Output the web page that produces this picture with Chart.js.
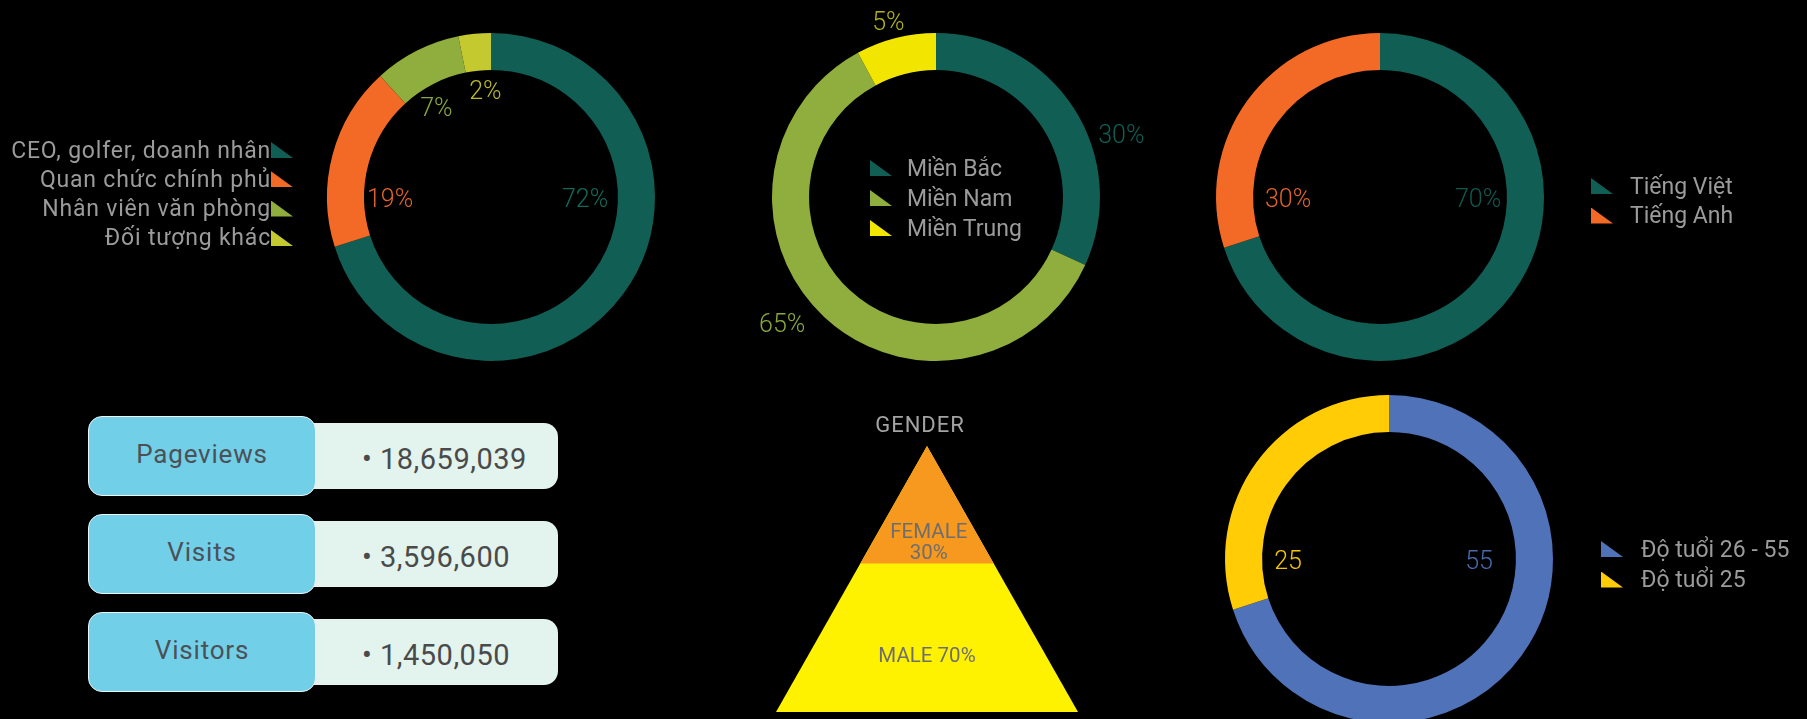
<!DOCTYPE html>
<html>
<head>
  <meta charset="utf-8">
  <title>Audience infographic</title>
  <script src="https://cdn.jsdelivr.net/npm/chart.js"></script>
  <style>
    html, body { margin: 0; padding: 0; background: #000; }
    body { width: 1807px; height: 719px; position: relative; overflow: hidden; font-family: Roboto, "Noto Sans", sans-serif; }
    canvas.donut { position: absolute; }
    .legend { position: absolute; left: 0; top: 0; width: 1807px; height: 719px; color: #9b9b9b; font-size: 23px; pointer-events: none; }
    .legend .row { position: absolute; white-space: nowrap; display: flex; align-items: center; height: 26px; }
    .legend .mark { width: 22px; height: 16px; clip-path: polygon(0 0, 0 100%, 100% 100%); flex: none; }
    #legendAudience { letter-spacing: 0.8px; }
    .stat-val { position: absolute; background: #e3f3ee; border-radius: 14px; color: #4a4a4a; font-size: 29px; letter-spacing: 0.5px; box-sizing: border-box; }
    .stat-key { position: absolute; background: #72cfe8; border: 1.5px solid #e9f5f6; border-radius: 14px; color: #4b5157; font-size: 26px; letter-spacing: 0.8px; display: flex; align-items: center; justify-content: center; box-sizing: border-box; }
    #genderTitle { position: absolute; left: 820px; width: 200px; top: 412px; text-align: center; color: #a3a3a3; font-size: 22px; letter-spacing: 1px; }
  </style>
</head>
<body>
  <canvas id="audienceChart" class="donut" width="460" height="460" style="left:261px;top:-33px"></canvas>
  <canvas id="regionChart" class="donut" width="460" height="460" style="left:706px;top:-33px"></canvas>
  <canvas id="languageChart" class="donut" width="460" height="460" style="left:1150px;top:-33px"></canvas>
  <canvas id="ageChart" class="donut" width="460" height="460" style="left:1159px;top:329px"></canvas>
  <canvas id="genderChart" class="donut" width="340" height="289" style="left:760px;top:430px"></canvas>
  <div id="genderTitle">GENDER</div>
  <div id="stats"></div>
  <div id="legendAudience" class="legend"></div>
  <div id="legendRegion" class="legend"></div>
  <div id="legendLanguage" class="legend"></div>
  <div id="legendAge" class="legend"></div>

  <script>
    // --- data ---
    // ring sizes are read off the drawing; the printed labels are kept as they appear
    const audienceLabels = ['CEO, golfer, doanh nhân', 'Quan chức chính phủ', 'Nhân viên văn phòng', 'Đối tượng khác'];
    const audienceValues = [70.1, 18.1, 8.6, 3.2];
    const audienceTexts = ['72%', '19%', '7%', '2%'];
    const regionLabels = ['Miền Bắc', 'Miền Nam', 'Miền Trung'];
    const regionValues = [31.8, 60.3, 7.9];
    const regionTexts = ['30%', '65%', '5%'];
    const languageLabels = ['Tiếng Việt', 'Tiếng Anh'];
    const languageValues = [70, 30];
    const languageTexts = ['70%', '30%'];
    const ageLabels = ['Độ tuổi 26 - 55', 'Độ tuổi 25'];
    const ageValues = [70, 30];
    const ageTexts = ['55', '25'];
    const genderLabels = ['FEMALE', 'MALE'];
    const genderValues = [30, 70];
    const statLabels = ['Pageviews', 'Visits', 'Visitors'];
    const statValues = ['18,659,039', '3,596,600', '1,450,050'];

    const TEAL = '#115e54', ORANGE = '#f26a25', GREEN = '#8fae3d', LIME = '#c4c92f';

    // labels around the rings: angle (deg, clockwise from top) and distance from centre
    const arcLabels = {
      id: 'arcLabels',
      afterDatasetsDraw(chart, args, opts) {
        if (!opts.angles) return;
        const ctx = chart.ctx;
        ctx.save();
        ctx.font = '300 25px Roboto';
        ctx.textAlign = 'center';
        ctx.textBaseline = 'middle';
        chart.getDatasetMeta(0).data.forEach((arc, i) => {
          const a = opts.angles[i] * Math.PI / 180;
          ctx.fillStyle = opts.colors[i];
          ctx.fillText(opts.texts[i], arc.x + opts.radii[i] * Math.sin(a), arc.y - opts.radii[i] * Math.cos(a) + 4);
        });
        ctx.restore();
      }
    };

    function donut(id, labels, values, colors, labelOpts) {
      return new Chart(document.getElementById(id), {
        type: 'doughnut',
        data: { labels: labels, datasets: [{ data: values, backgroundColor: colors, borderWidth: 0 }] },
        options: {
          responsive: false,
          animation: false,
          cutout: '77.4%',
          layout: { padding: 66 },
          plugins: { legend: { display: false }, tooltip: { enabled: false }, arcLabels: labelOpts }
        },
        plugins: [arcLabels]
      });
    }

    const audienceColors = [TEAL, ORANGE, GREEN, LIME];
    donut('audienceChart', audienceLabels, audienceValues, audienceColors, {
      texts: audienceTexts, angles: [90, 270, 329, 357], radii: [94, 101, 106, 108],
      colors: ['#12695a', '#e0612a', '#8aa93a', '#b9b92a']
    });
    const regionColors = [TEAL, GREEN, '#f2e600'];
    donut('regionChart', regionLabels, regionValues, regionColors, {
      texts: regionTexts, angles: [71, 231, 345], radii: [196, 198, 184],
      colors: ['#0f5f55', '#8aa83c', '#b2b21e']
    });
    const languageColors = [TEAL, ORANGE];
    donut('languageChart', languageLabels, languageValues, languageColors, {
      texts: languageTexts, angles: [90, 270], radii: [98, 92],
      colors: ['#0f5a50', '#e0622a']
    });
    const ageColors = ['#5072b8', '#ffcc05'];
    donut('ageChart', ageLabels, ageValues, ageColors, {
      texts: ageTexts, angles: [90, 270], radii: [90, 101],
      colors: ['#4a6aad', '#f5c400']
    });

    // --- gender pyramid: apex at y=1, base at y=0 ---
    const genderSplit = 0.5585;
    const splitHalf = 0.5 * (1 - genderSplit);
    const pyramidText = {
      id: 'pyramidText',
      afterDatasetsDraw(chart) {
        const ctx = chart.ctx, xs = chart.scales.x, ys = chart.scales.y;
        ctx.save();
        ctx.font = '400 20.5px Roboto';
        ctx.fillStyle = '#6e6e6e';
        ctx.textAlign = 'center';
        ctx.textBaseline = 'middle';
        ctx.fillText(genderLabels[0], xs.getPixelForValue(0.006), ys.getPixelForValue(0.675));
        ctx.fillText(genderValues[0] + '%', xs.getPixelForValue(0.006), ys.getPixelForValue(0.596));
        ctx.fillText(genderLabels[1] + ' ' + genderValues[1] + '%', xs.getPixelForValue(0), ys.getPixelForValue(0.207));
        ctx.restore();
      }
    };
    new Chart(document.getElementById('genderChart'), {
      type: 'line',
      data: {
        datasets: [
          { label: genderLabels[0], data: [{ x: -splitHalf, y: genderSplit }, { x: 0, y: 1 }, { x: splitHalf, y: genderSplit }],
            backgroundColor: '#f7991f', fill: { value: genderSplit }, borderWidth: 0, pointRadius: 0, tension: 0 },
          { label: genderLabels[1], data: [{ x: -0.5, y: 0 }, { x: 0, y: 1 }, { x: 0.5, y: 0 }],
            backgroundColor: '#fff200', fill: 'origin', borderWidth: 0, pointRadius: 0, tension: 0 }
        ]
      },
      options: {
        responsive: false,
        animation: false,
        layout: { padding: { left: 16, right: 22, top: 16, bottom: 7 } },
        scales: {
          x: { type: 'linear', min: -0.5, max: 0.5, display: false },
          y: { min: 0, max: 1, display: false }
        },
        plugins: { legend: { display: false }, tooltip: { enabled: false } }
      },
      plugins: [pyramidText]
    });

    // --- legends ---
    function legend(id, labels, colors, cfg) {
      const box = document.getElementById(id);
      labels.forEach((text, i) => {
        const row = document.createElement('div');
        row.className = 'row';
        row.style.top = (cfg.top + i * cfg.step - 13) + 'px';
        const mark = document.createElement('span');
        mark.className = 'mark';
        mark.style.background = colors[i];
        const label = document.createElement('span');
        label.textContent = text;
        if (cfg.right !== undefined) {
          row.style.right = (1807 - cfg.right) + 'px';
          mark.style.marginLeft = cfg.gap + 'px';
          row.append(label, mark);
        } else {
          row.style.left = cfg.left + 'px';
          mark.style.marginRight = cfg.gap + 'px';
          row.append(mark, label);
        }
        box.appendChild(row);
      });
    }
    legend('legendAudience', audienceLabels, audienceColors, { right: 293, top: 150, step: 29.3, gap: 0 });
    legend('legendRegion', regionLabels, regionColors, { left: 870, top: 168, step: 30, gap: 15 });
    legend('legendLanguage', languageLabels, languageColors, { left: 1591, top: 186, step: 29.5, gap: 17 });
    legend('legendAge', ageLabels, ageColors, { left: 1601, top: 549, step: 30.5, gap: 18 });

    // --- headline numbers ---
    const stats = document.getElementById('stats');
    statLabels.forEach((name, i) => {
      const top = 416 + i * 98;
      const val = document.createElement('div');
      val.className = 'stat-val';
      val.style.cssText = `left:290px;top:${top + 7}px;width:268px;height:66px;line-height:72px;padding-left:72px`;
      val.textContent = '• ' + statValues[i];
      const key = document.createElement('div');
      key.className = 'stat-key';
      key.style.cssText = `left:88px;top:${top}px;width:228px;height:80px;padding-bottom:5px`;
      key.textContent = name;
      stats.append(val, key);
    });
  </script>
</body>
</html>
